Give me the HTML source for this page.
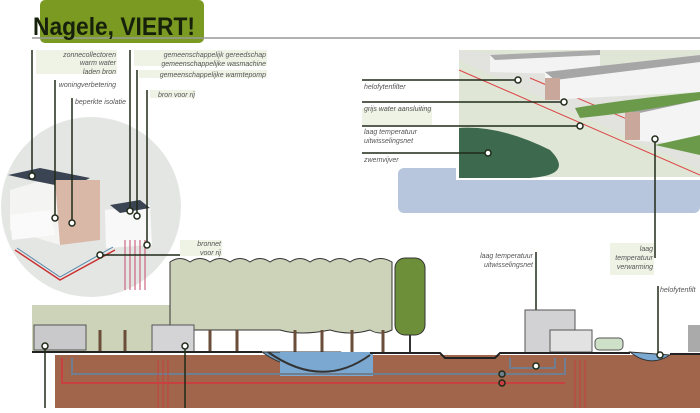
<!DOCTYPE html>
<html><head><style>
body{margin:0;width:700px;height:408px;overflow:hidden;background:#fff;font-family:"Liberation Sans",sans-serif}
.t{font-style:italic;font-size:7px;fill:#555}
</style></head><body>
<svg width="700" height="408" xmlns="http://www.w3.org/2000/svg">
<rect x="40" y="0" width="164" height="43" rx="5" fill="#7b9a22"/>
<line x1="32" y1="38" x2="700" y2="38" stroke="#999" stroke-width="1.5"/>
<text x="33" y="35" font-size="25" font-weight="bold" fill="#16200a" font-family="Liberation Sans, sans-serif" textLength="162" lengthAdjust="spacingAndGlyphs">Nagele, VIERT!</text>
<rect x="36" y="50" width="81" height="24" fill="#eef3e6"/>
<rect x="134" y="50" width="133" height="16" fill="#eef3e6"/>
<rect x="139" y="70" width="128" height="8" fill="#eef3e6"/>
<rect x="150" y="90" width="45" height="8" fill="#eef3e6"/>
<text class="t" x="116" y="57" text-anchor="end">zonnecollectoren</text>
<text class="t" x="116" y="65" text-anchor="end">warm water</text>
<text class="t" x="116" y="74" text-anchor="end">laden bron</text>
<text class="t" x="116" y="87" text-anchor="end">woningverbetering</text>
<text class="t" x="126" y="104" text-anchor="end">beperkte isolatie</text>
<text class="t" x="266" y="57" text-anchor="end">gemeenschappelijk gereedschap</text>
<text class="t" x="266" y="66" text-anchor="end">gemeenschappelijke wasmachine</text>
<text class="t" x="266" y="77" text-anchor="end">gemeenschappelijke warmtepomp</text>
<text class="t" x="195" y="97" text-anchor="end">bron voor rij</text>
<circle cx="91" cy="207" r="90" fill="#e4e6e4"/>
<polygon points="10,190 50,178 100,185 100,240 60,245 10,230" fill="#f4f4f2"/>
<polygon points="8,175 40,168 90,178 70,188 30,180" fill="#3b4452"/>
<polygon points="55,180 100,180 100,240 60,245" fill="#d9b8a8"/>
<polygon points="10,215 50,210 55,235 12,240" fill="#fafafa"/>
<polygon points="105,210 150,205 152,245 106,248" fill="#f8f8f8"/>
<polygon points="110,205 140,200 150,208 120,213" fill="#3b4452"/>
<path d="M15,250 L60,280 L115,250" stroke="#c33" stroke-width="1.5" fill="none"/>
<path d="M17,248 L60,277 L113,247" stroke="#58a" stroke-width="1" fill="none"/>
<path d="M125,240 L125,290 M130,240 L130,290 M135,240 L135,290 M140,240 L140,290 M145,240 L145,290" stroke="#c34a6a" stroke-width="1"/>
<g stroke="#1f2a18" stroke-width="1.5" fill="none">
<line x1="32" y1="50" x2="32" y2="175"/><circle cx="32" cy="176" r="3" fill="#fff"/>
<line x1="55" y1="80" x2="55" y2="218"/><circle cx="55" cy="218" r="3" fill="#fff"/>
<line x1="72" y1="98" x2="72" y2="222"/><circle cx="72" cy="223" r="3" fill="#fff"/>
<line x1="130" y1="50" x2="130" y2="210"/><circle cx="130" cy="211" r="3" fill="#fff"/>
<line x1="137" y1="70" x2="137" y2="215"/><circle cx="137" cy="216" r="3" fill="#fff"/>
<line x1="147" y1="90" x2="147" y2="244"/><circle cx="147" cy="245" r="3" fill="#fff"/>
<line x1="100" y1="255" x2="222" y2="255"/><circle cx="100" cy="255" r="3" fill="#fff"/>
</g>
<rect x="180" y="240" width="42" height="16" fill="#eef3e6"/>
<text class="t" x="221" y="246" text-anchor="end">bronnet</text>
<text class="t" x="221" y="255" text-anchor="end">voor rij</text>
<rect x="398" y="168" width="302" height="45" rx="6" fill="#b7c6dc"/>
<rect x="456" y="47" width="244" height="133" fill="#fff"/>
<rect x="459" y="50" width="241" height="127" fill="#dfe6d6"/>
<polygon points="459,60 700,170 700,120 560,60 459,50" fill="#e2e2de"/>
<line x1="459" y1="70" x2="700" y2="175" stroke="#d44" stroke-width="1"/>
<line x1="530" y1="78" x2="700" y2="150" stroke="#d44" stroke-width="1"/>
<polygon points="490,55 600,50 600,75 490,72" fill="#f3f3f3"/>
<polygon points="490,55 600,50 600,55 495,60" fill="#aaa"/>
<polygon points="545,72 700,55 700,92 545,100" fill="#f4f4f4"/>
<polygon points="545,72 700,55 700,62 555,80" fill="#a6a6a6"/>
<polygon points="625,108 700,92 700,145 625,140" fill="#f4f4f4"/>
<polygon points="625,108 700,92 700,100 635,114" fill="#a6a6a6"/>
<rect x="545" y="78" width="15" height="22" fill="#c9a79a"/>
<rect x="625" y="112" width="15" height="28" fill="#c9a79a"/>
<path d="M575,108 Q620,100 700,92 L700,100 Q640,112 580,118Z" fill="#6a9a4a"/>
<path d="M655,145 L700,135 L700,155 Z" fill="#6a9a4a"/>
<path d="M459,128 Q500,125 550,150 Q575,175 530,178 L459,178Z" fill="#3d6a4e"/>
<g stroke="#1f2a18" stroke-width="1.5" fill="none">
<line x1="362" y1="80" x2="518" y2="80"/><circle cx="518" cy="80" r="3" fill="#fff"/>
<line x1="362" y1="102" x2="564" y2="102"/><circle cx="564" cy="102" r="3" fill="#fff"/>
<line x1="362" y1="126" x2="580" y2="126"/><circle cx="580" cy="126" r="3" fill="#fff"/>
<line x1="362" y1="153" x2="488" y2="153"/><circle cx="488" cy="153" r="3" fill="#fff"/>
<line x1="655" y1="138" x2="655" y2="258"/><circle cx="655" cy="139" r="3" fill="#fff"/>
<line x1="536" y1="252" x2="536" y2="352"/>
<line x1="658" y1="286" x2="658" y2="355"/>
</g>
<rect x="362" y="108" width="70" height="17" fill="#eef3e6"/>
<text class="t" x="364" y="89">helofytenfilter</text>
<text class="t" x="364" y="111">grijs water aansluiting</text>
<text class="t" x="364" y="134">laag temperatuur</text>
<text class="t" x="364" y="143">uitwisselingsnet</text>
<text class="t" x="364" y="162">zwemvijver</text>
<text class="t" x="533" y="258" text-anchor="end">laag temperatuur</text>
<text class="t" x="533" y="267" text-anchor="end">uitwisselingsnet</text>
<rect x="610" y="243" width="44" height="32" fill="#eef3e6"/>
<text class="t" x="653" y="251" text-anchor="end">laag</text>
<text class="t" x="653" y="260" text-anchor="end">temperatuur</text>
<text class="t" x="653" y="269" text-anchor="end">verwarming</text>
<text class="t" x="660" y="292">helofytenfilt</text>
<rect x="55" y="355" width="645" height="53" fill="#a0654a"/>
<rect x="32" y="305" width="145" height="47" fill="#ccd3b8"/>
<path d="M170,262 Q180,255 190,262 Q200,255 210,262 Q220,255 230,262 Q240,255 250,262 Q260,255 270,262 Q280,255 290,262 Q300,255 310,262 Q320,255 330,262 Q340,255 350,262 Q360,255 370,262 Q380,255 392,262 L392,330 Q380,336 370,330 Q350,336 330,330 Q300,336 280,330 L200,330 L170,330Z" fill="#ccd3b8" stroke="#333" stroke-width="1"/>
<rect x="171" y="300" width="4" height="30" fill="#ccd3b8"/>
<rect x="395" y="258" width="30" height="77" rx="10" fill="#6d8f3a" stroke="#333"/>
<line x1="410" y1="335" x2="410" y2="352" stroke="#333" stroke-width="2"/>
<g stroke="#6b4e3a" stroke-width="3">
<line x1="100" y1="330" x2="100" y2="352"/><line x1="125" y1="330" x2="125" y2="352"/>
<line x1="210" y1="330" x2="210" y2="352"/><line x1="237" y1="330" x2="237" y2="352"/>
<line x1="295" y1="330" x2="295" y2="352"/><line x1="322" y1="330" x2="322" y2="352"/>
<line x1="352" y1="330" x2="352" y2="352"/><line x1="383" y1="330" x2="383" y2="352"/>
</g>
<rect x="34" y="325" width="52" height="25" fill="#c9c9cb" stroke="#555"/>
<rect x="152" y="325" width="42" height="27" fill="#d4d4d6" stroke="#555"/>
<rect x="525" y="310" width="50" height="43" fill="#d2d2d4" stroke="#555"/>
<rect x="550" y="330" width="42" height="22" fill="#e2e2e2" stroke="#555"/>
<rect x="595" y="338" width="28" height="12" rx="4" fill="#cfe0c8" stroke="#555"/>
<rect x="688" y="325" width="12" height="27" fill="#aaa"/>
<path d="M262,352 Q300,380 340,352Z" fill="#6f9ec4" stroke="#333"/>
<rect x="280" y="352" width="93" height="24" fill="#7aa8d0"/>
<path d="M268,352 Q322,390 370,355" stroke="#333" stroke-width="2" fill="none"/>
<path d="M630,352 Q650,368 670,355Z" fill="#7aa8d0" stroke="#333"/>
<path d="M32,352 L262,352 M370,353 L440,353 L445,358 L495,358 L500,353 L630,353 M670,354 L700,354" stroke="#222" stroke-width="2" fill="none"/>
<g fill="none" stroke-width="2">
<path d="M72,358 L72,374 L565,374 L565,358" stroke="#6f7f90"/>
<path d="M62,358 L62,383 L565,383" stroke="#c84040"/>
<path d="M510,358 L510,368 L555,368 L555,358" stroke="#6f7f90"/>
<path d="M158,360 L158,408 M163,360 L163,408 M168,360 L168,408 M575,360 L575,408 M580,360 L580,408 M585,360 L585,408" stroke="#c84040" stroke-width="1"/>
</g>
<g stroke="#1f2a18" stroke-width="1.5" fill="none">
<line x1="45" y1="346" x2="45" y2="408"/><circle cx="45" cy="346" r="3" fill="#fff"/>
<line x1="185" y1="346" x2="185" y2="408"/><circle cx="185" cy="346" r="3" fill="#fff"/>
<circle cx="536" cy="366" r="3" fill="#fff"/>
<circle cx="502" cy="374" r="3" fill="#6f7f90"/><circle cx="502" cy="383" r="3" fill="#c84040"/>
<circle cx="660" cy="355" r="3" fill="#fff"/>
</g>
</svg>
</body></html>
